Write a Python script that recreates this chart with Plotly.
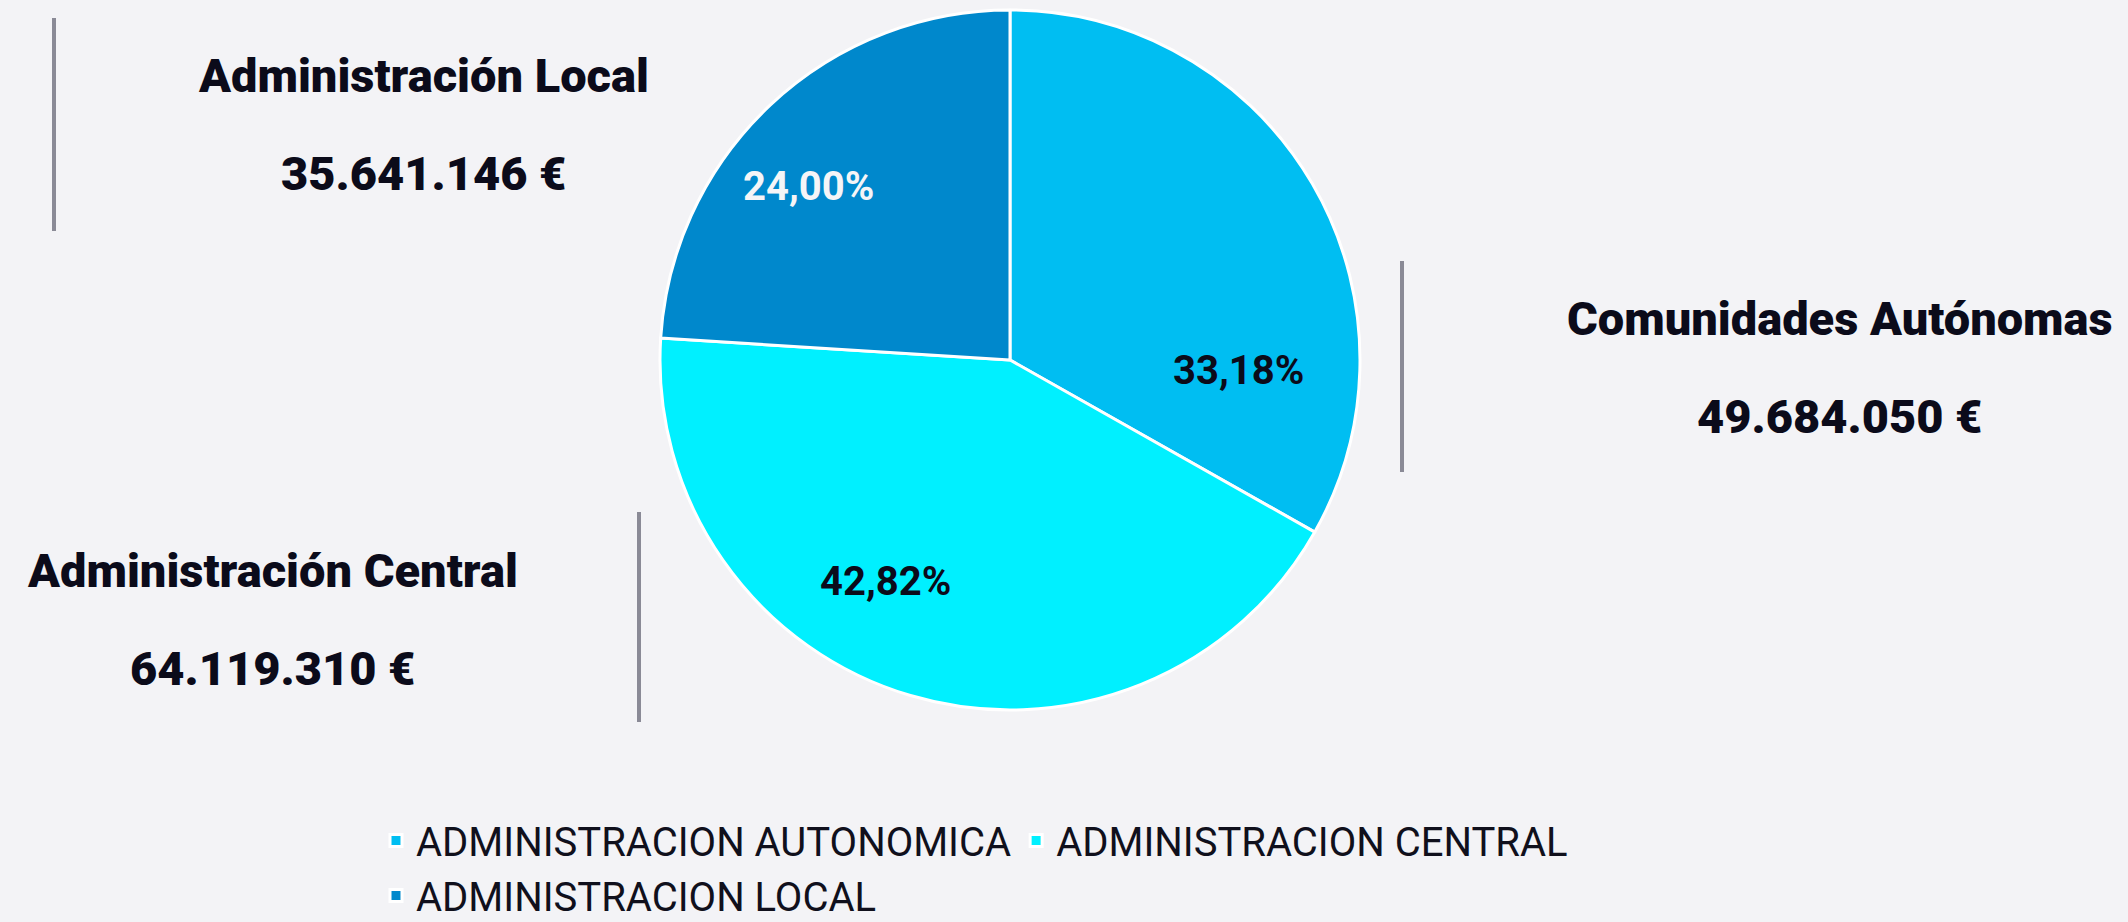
import plotly.graph_objects as go

# ---- data ----
legend_labels = ["ADMINISTRACION AUTONOMICA", "ADMINISTRACION CENTRAL", "ADMINISTRACION LOCAL"]
pct_values = [33.18, 42.82, 24.00]
pct_text = ["33,18%", "42,82%", "24,00%"]
big_titles = ["Comunidades Autónomas", "Administración Central", "Administración Local"]
amounts = ["49.684.050 €", "64.119.310 €", "35.641.146 €"]
slice_colors = ["#00BEF2", "#00F0FF", "#0088CC"]

W, H = 2128, 922
ML, MR, MT, MB = 360, 360, 0, 0
PW, PH = W - ML - MR, H - MT - MB
BG = "#F3F3F6"


def px(x):
    return (x - ML) / PW


def py(y):
    return 1 - (y - MT) / PH


# pie geometry: center (1010, 360), radius 350
cx, cy, R = 1010, 360, 350

fig = go.Figure()
fig.add_trace(go.Pie(
    labels=legend_labels,
    values=pct_values,
    sort=False,
    direction="clockwise",
    rotation=0,
    marker=dict(colors=slice_colors, line=dict(color="#FFFFFF", width=3)),
    textinfo="none",
    hoverinfo="label+percent",
    domain=dict(x=[px(cx - R - 50), px(cx + R + 50)], y=[py(cy + R), py(cy - R)]),
    showlegend=True,
))

title_font = dict(family="Roboto, Liberation Sans, sans-serif",
                  size=47, color="#0B0B1A", weight=900)

# big labels: (center x, title y, amount y)
label_pos = [
    (1840, 318, 417),
    (272, 570, 668),
    (423, 75, 174),
]
annotations = []
for i, (lx, ty, vy) in enumerate(label_pos):
    annotations.append(dict(x=px(lx), y=py(ty), xref="paper", yref="paper", text=big_titles[i],
                            showarrow=False, xanchor="center", yanchor="middle", font=title_font))
    annotations.append(dict(x=px(lx), y=py(vy), xref="paper", yref="paper", text=amounts[i],
                            showarrow=False, xanchor="center", yanchor="middle", font=title_font))

# percentage labels
pct_pos = [(1238, 371), (885, 581), (808, 187)]
pct_colors = ["#0B0B1A", "#0B0B1A", "#F5F5F7"]
for i, (tx, ty) in enumerate(pct_pos):
    annotations.append(dict(x=px(tx), y=py(ty), xref="paper", yref="paper", text=pct_text[i],
                            showarrow=False, xanchor="center", yanchor="middle",
                            font=dict(family="Roboto, sans-serif", size=40, color=pct_colors[i], weight=700)))

# gray separator bars
bars = [(54, 18, 231), (1402, 261, 472), (639, 512, 722)]
shapes = []
for bx, y0, y1 in bars:
    shapes.append(dict(type="line", xref="paper", yref="paper", x0=px(bx), x1=px(bx),
                       y0=py(y0), y1=py(y1), line=dict(color="#8A8A96", width=4)))

fig.update_layout(
    width=W, height=H,
    margin=dict(l=ML, r=MR, t=MT, b=MB, autoexpand=False),
    paper_bgcolor=BG,
    plot_bgcolor=BG,
    showlegend=True,
    legend=dict(orientation="h", x=px(376), y=py(808), xanchor="left", yanchor="top",
                font=dict(family="Roboto, sans-serif", size=40, color="#10101C"),
                bgcolor="rgba(0,0,0,0)", traceorder="normal"),
    annotations=annotations,
    shapes=shapes,
)

fig.write_html(
    "out.html",
    config={"displayModeBar": False},
    post_script="document.body.style.margin='0';document.body.style.background='%s';" % BG,
)
